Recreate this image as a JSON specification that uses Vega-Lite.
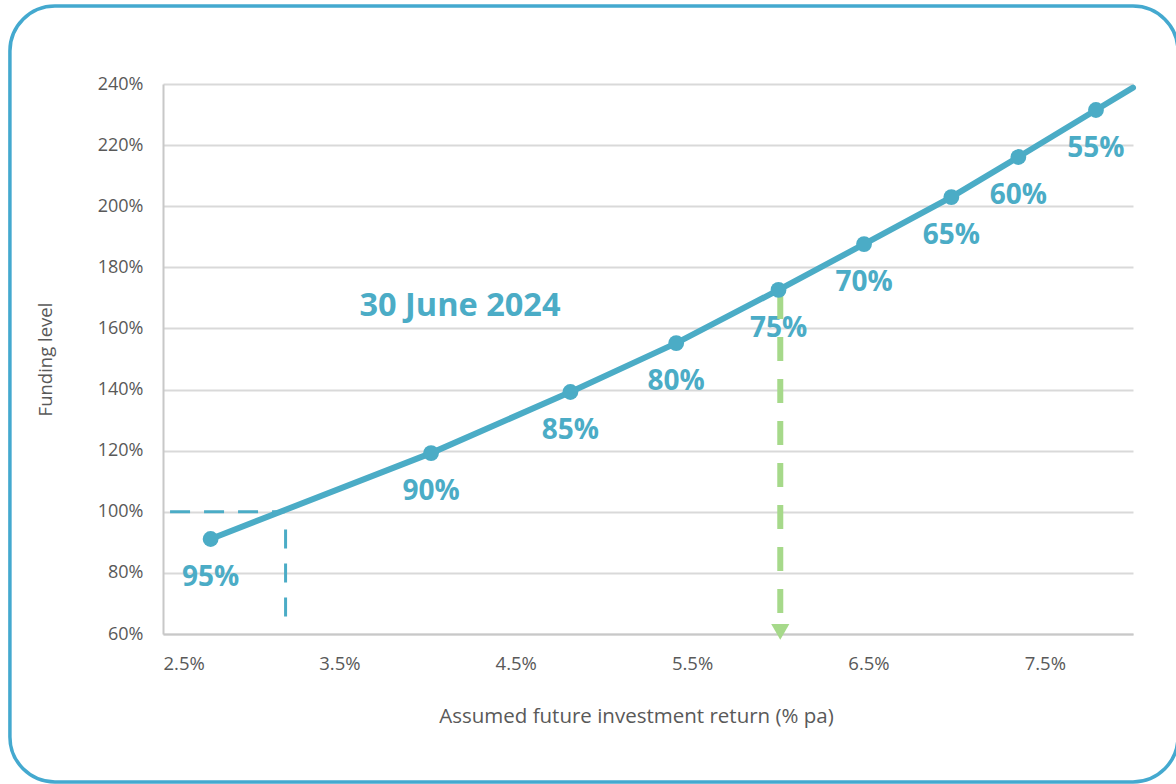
{
  "$schema": "https://vega.github.io/schema/vega-lite/v6.json",
  "width": 970,
  "height": 550,
  "autosize": {"type": "none"},
  "padding": {"left": 163, "top": 84, "right": 43, "bottom": 150},
  "background": "white",
  "config": {
    "view": {"stroke": null},
    "font": "Open Sans"
  },
  "data": {"values": [{}]},
  "datasets": {
    "curve": [
      {"ret": 2.77, "level": 91.1, "label": "95%"},
      {"ret": 4.02, "level": 119.2, "label": "90%"},
      {"ret": 4.81, "level": 139.2, "label": "85%"},
      {"ret": 5.41, "level": 155.2, "label": "80%"},
      {"ret": 5.99, "level": 172.6, "label": "75%"},
      {"ret": 6.475, "level": 187.6, "label": "70%"},
      {"ret": 6.97, "level": 203.0, "label": "65%"},
      {"ret": 7.35, "level": 216.1, "label": "60%"},
      {"ret": 7.79, "level": 231.5, "label": "55%"},
      {"ret": 8.0, "level": 238.8, "label": null}
    ]
  },
  "layer": [
    {
      "mark": {"type": "rect", "filled": false, "stroke": "#44A9CF", "strokeWidth": 3.5, "cornerRadius": 45, "clip": false},
      "encoding": {
        "x": {"datum": 1.632, "scale": {"domain": [2.5, 8], "nice": false, "zero": false}},
        "x2": {"datum": 8.255},
        "y": {"datum": 265.5, "scale": {"domain": [60, 240], "nice": false, "zero": false}},
        "y2": {"datum": 11.6}
      }
    },
    {
      "data": {"name": "curve"},
      "mark": {"type": "line", "color": "#4BACC6", "strokeWidth": 6, "strokeCap": "round", "clip": false},
      "encoding": {
        "x": {
          "field": "ret", "type": "quantitative",
          "scale": {"domain": [2.5, 8], "nice": false, "zero": false},
          "axis": {
            "title": "Assumed future investment return (% pa)",
            "values": [2.5, 3.5, 4.5, 5.5, 6.5, 7.5],
            "labelExpr": "format(datum.value, '.1f') + '%'",
            "grid": false,
            "ticks": false,
            "domain": true,
            "domainColor": "#C8C8C8",
            "domainWidth": 2,
            "labelFontSize": 18.5,
            "labelColor": "#595959",
            "labelPadding": 20,
            "titleFontSize": 20.5,
            "titleFontWeight": "normal",
            "titleColor": "#595959",
            "titlePadding": 34,
            "titleX": 473
          }
        },
        "y": {
          "field": "level", "type": "quantitative",
          "scale": {"domain": [60, 240], "nice": false, "zero": false},
          "axis": {
            "title": "Funding level",
            "values": [60, 80, 100, 120, 140, 160, 180, 200, 220, 240],
            "labelExpr": "datum.value + '%'",
            "grid": true,
            "gridColor": "#D9D9D9",
            "gridWidth": 2,
            "ticks": false,
            "domain": true,
            "domainColor": "#C8C8C8",
            "domainWidth": 2,
            "labelFontSize": 18,
            "labelColor": "#595959",
            "labelPadding": 20,
            "titleFontSize": 18.5,
            "titleFontWeight": "normal",
            "titleColor": "#595959",
            "titlePadding": 42
          }
        },
        "order": {"field": "ret", "type": "quantitative"}
      }
    },
    {
      "mark": {"type": "rule", "color": "#4BACC6", "strokeWidth": 3, "strokeDash": [20, 14]},
      "encoding": {
        "x": {"datum": 2.54},
        "x2": {"datum": 3.19},
        "y": {"datum": 100}
      }
    },
    {
      "mark": {"type": "rule", "color": "#4BACC6", "strokeWidth": 3, "strokeDash": [19, 15]},
      "encoding": {
        "x": {"datum": 3.195},
        "y": {"datum": 94.2},
        "y2": {"datum": 65.6}
      }
    },
    {
      "data": {"name": "curve"},
      "transform": [{"filter": "datum.label != null"}],
      "mark": {"type": "text", "dy": 39, "fontSize": 28, "fontWeight": "bold", "color": "#4BACC6", "baseline": "middle", "align": "center"},
      "encoding": {
        "x": {"field": "ret", "type": "quantitative"},
        "y": {"field": "level", "type": "quantitative"},
        "text": {"field": "label"}
      }
    },
    {
      "mark": {"type": "rule", "color": "#A6D98A", "strokeWidth": 6, "strokeDash": [24, 18]},
      "encoding": {
        "x": {"datum": 6.0},
        "y": {"datum": 66.9},
        "y2": {"datum": 172.0}
      }
    },
    {
      "mark": {"type": "point", "shape": "triangle-down", "filled": true, "color": "#A6D98A", "size": 330, "opacity": 1},
      "encoding": {
        "x": {"datum": 6.0},
        "y": {"datum": 60.7}
      }
    },
    {
      "data": {"name": "curve"},
      "transform": [{"filter": "datum.label != null"}],
      "mark": {"type": "circle", "color": "#4BACC6", "size": 250, "opacity": 1},
      "encoding": {
        "x": {"field": "ret", "type": "quantitative"},
        "y": {"field": "level", "type": "quantitative"}
      }
    },
    {
      "mark": {"type": "text", "text": "30 June 2024", "fontSize": 32.5, "fontWeight": "bold", "color": "#4BACC6", "baseline": "middle", "align": "center"},
      "encoding": {
        "x": {"datum": 4.184},
        "y": {"datum": 167.5}
      }
    }
  ]
}
